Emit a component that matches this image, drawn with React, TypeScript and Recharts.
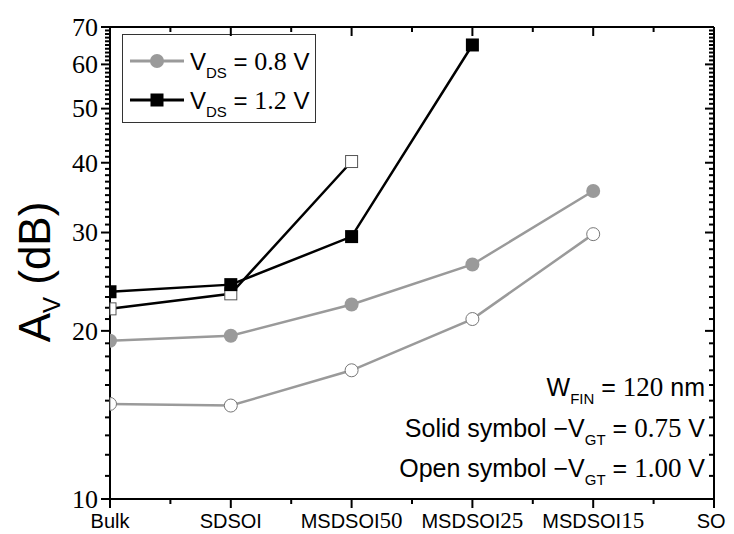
import React from 'react';
import { LineChart, Line, XAxis, YAxis, ReferenceLine } from 'recharts';

const categories = ['Bulk', 'SDSOI', 'MSDSOI50', 'MSDSOI25', 'MSDSOI15', 'SOI'];
const vds08Solid = [19.2, 19.6, 22.3, 26.3, 35.6];
const vds08Open = [14.8, 14.7, 17.0, 21.0, 29.8];
const vds12Solid = [23.5, 24.2, 29.5, 65];
const vds12Open = [21.9, 23.3, 40.2];
const yMajorTicks = [10, 20, 30, 40, 50, 60, 70];
const yAllTicks = Array.from({ length: 61 }, (_, i) => 10 + i);
const xMajorTicks = [0, 1, 2, 3, 4, 5];
const xAllTicks = [0, 0.5, 1, 1.5, 2, 2.5, 3, 3.5, 4, 4.5, 5];

const data = categories.map((c, i) => ({
  x: i,
  s08: vds08Solid[i],
  o08: vds08Open[i],
  s12: vds12Solid[i],
  o12: vds12Open[i],
}));

const GRAY = '#9a9a9a';
const SANS = '"Liberation Sans", Arial, sans-serif';
const SERIF = '"Liberation Serif", "Times New Roman", serif';

const W = 726;
const H = 526;
const PLOT_W = 604;
const PLOT_H = 472;
const MAJOR = 9;
const MINOR = 5;
const X_MIN = 0;
const X_MAX = 5;
const Y_MIN = 10;
const Y_MAX = 70;
const xLen = (px: number) => (px * (X_MAX - X_MIN)) / PLOT_W;
const yFactor = (px: number) => Math.pow(10, (-px * Math.log10(Y_MAX / Y_MIN)) / PLOT_H);

const LeftLabel = (props: any) => {
  const x = Number(props.x);
  const y = Number(props.y);
  const v = props.payload.value;
  return (
    <text x={x - 12} y={y} dy="0.34em" textAnchor="end" fontFamily={SERIF} fontSize={26} fill="#000">
      {v}
    </text>
  );
};

const BottomLabel = (props: any) => {
  const x = Number(props.x);
  const y = Number(props.y);
  const label = categories[props.payload.value] ?? '';
  const m = label.match(/^(\D+)(\d+)$/);
  return (
    <text x={x} y={y + 29} textAnchor="middle" fontFamily={SANS} fontSize={20} fill="#000">
      {m ? (
        <>
          <tspan>{m[1]}</tspan>
          <tspan fontFamily={SERIF} fontSize={23}>{m[2]}</tspan>
        </>
      ) : (
        label
      )}
    </text>
  );
};

const halfCircle = (cx: number, cy: number, r: number) => `M${cx},${cy - r}A${r},${r} 0 0 1 ${cx},${cy + r}Z`;

const dotFilledCircle = (p: any) => {
  if (p.value == null) return <g key={p.index} />;
  if (p.index === 0) return <path key={p.index} d={halfCircle(p.cx, p.cy, 7)} fill={GRAY} />;
  return <circle key={p.index} cx={p.cx} cy={p.cy} r={7} fill={GRAY} stroke="none" />;
};
const dotOpenCircle = (p: any) => {
  if (p.value == null) return <g key={p.index} />;
  if (p.index === 0) return <path key={p.index} d={halfCircle(p.cx, p.cy, 6.5)} fill="#fff" stroke="#777" strokeWidth={1} />;
  return <circle key={p.index} cx={p.cx} cy={p.cy} r={6.5} fill="#fff" stroke="#777" strokeWidth={1} />;
};
const dotFilledSquare = (p: any) => {
  if (p.value == null) return <g key={p.index} />;
  const x0 = p.index === 0 ? p.cx : p.cx - 6.5;
  const w = p.index === 0 ? 6.5 : 13;
  return <rect key={p.index} x={x0} y={p.cy - 6.5} width={w} height={13} fill="#000" />;
};
const dotOpenSquare = (p: any) => {
  if (p.value == null) return <g key={p.index} />;
  const x0 = p.index === 0 ? p.cx : p.cx - 6;
  const w = p.index === 0 ? 6 : 12;
  return <rect key={p.index} x={x0} y={p.cy - 6} width={w} height={12} fill="#fff" stroke="#555" strokeWidth={1} />;
};

// Text and legend layer, painted underneath the chart
const Overlay = () => (
  <svg width={W} height={H} style={{ position: 'absolute', left: 0, top: 0, pointerEvents: 'none' }}>
    <text
      transform="translate(42, 264) rotate(-90)"
      textAnchor="middle"
      fontFamily={SANS}
      fontSize={44}
      fill="#000"
    >
      <tspan>A</tspan>
      <tspan fontSize={24} dy={10}>V</tspan>
      <tspan dy={-10}> (dB)</tspan>
    </text>
    <rect x={114.5} y={26.5} width={193} height={88} fill="#fff" stroke="#333" strokeWidth={1} />
    <line x1={122} x2={176} y1={53} y2={53} stroke={GRAY} strokeWidth={3} />
    <circle cx={149} cy={53} r={7} fill={GRAY} />
    <text x={182} y={62} fontFamily={SANS} fontSize={24} fill="#000">
      <tspan>V</tspan>
      <tspan fontSize={15} dy={8}>DS</tspan>
      <tspan dy={-8}> = </tspan>
      <tspan fontFamily={SERIF} fontSize={26}>0.8</tspan>
      <tspan> V</tspan>
    </text>
    <line x1={122} x2={176} y1={92} y2={92} stroke="#000" strokeWidth={3} />
    <rect x={142.5} y={85.5} width={13} height={13} fill="#000" />
    <text x={182} y={101} fontFamily={SANS} fontSize={24} fill="#000">
      <tspan>V</tspan>
      <tspan fontSize={15} dy={8}>DS</tspan>
      <tspan dy={-8}> = </tspan>
      <tspan fontFamily={SERIF} fontSize={26}>1.2</tspan>
      <tspan> V</tspan>
    </text>
    <text x={697} y={388} textAnchor="end" fontFamily={SANS} fontSize={25} fill="#000">
      <tspan>W</tspan>
      <tspan fontSize={15} dy={8}>FIN</tspan>
      <tspan dy={-8}> = </tspan>
      <tspan fontFamily={SERIF} fontSize={27}>120</tspan>
      <tspan> nm</tspan>
    </text>
    <text x={697} y={429} textAnchor="end" fontFamily={SANS} fontSize={25} fill="#000">
      <tspan>Solid symbol −V</tspan>
      <tspan fontSize={15} dy={8}>GT</tspan>
      <tspan dy={-8}> = </tspan>
      <tspan fontFamily={SERIF} fontSize={27}>0.75</tspan>
      <tspan> V</tspan>
    </text>
    <text x={697} y={469} textAnchor="end" fontFamily={SANS} fontSize={25} fill="#000">
      <tspan>Open symbol −V</tspan>
      <tspan fontSize={15} dy={8}>GT</tspan>
      <tspan dy={-8}> = </tspan>
      <tspan fontFamily={SERIF} fontSize={27}>1.00</tspan>
      <tspan> V</tspan>
    </text>
  </svg>
);

const axisLine = { stroke: '#000', strokeWidth: 2 };

export default function App() {
  return (
    <div style={{ position: 'relative', width: W, height: H, background: '#fff' }}>
      <Overlay />
      <div style={{ position: 'relative', width: W, height: H }}>
        <LineChart width={W} height={H} data={data} margin={{ top: 18, right: 19, bottom: 0, left: 0 }}>
          <XAxis
            xAxisId="b"
            dataKey="x"
            type="number"
            domain={[X_MIN, X_MAX]}
            ticks={xMajorTicks}
            height={35}
            tickSize={0}
            tickMargin={0}
            tick={BottomLabel}
            tickLine={false}
            axisLine={axisLine}
          />
          <XAxis
            xAxisId="t"
            orientation="top"
            dataKey="x"
            type="number"
            domain={[X_MIN, X_MAX]}
            height={1}
            tick={false}
            tickLine={false}
            axisLine={axisLine}
          />
          <YAxis
            yAxisId="l"
            scale="log"
            domain={[Y_MIN, Y_MAX]}
            ticks={yMajorTicks}
            width={102}
            tickSize={0}
            tickMargin={0}
            tick={LeftLabel}
            tickLine={false}
            axisLine={axisLine}
          />
          <YAxis
            yAxisId="r"
            orientation="right"
            scale="log"
            domain={[Y_MIN, Y_MAX]}
            width={1}
            tick={false}
            tickLine={false}
            axisLine={axisLine}
          />
          {yAllTicks.map((v) => {
            const a = xLen(yMajorTicks.includes(v) ? MAJOR : MINOR);
            return (
              <ReferenceLine
                key={`yl${v}`}
                xAxisId="b"
                yAxisId="l"
                ifOverflow="visible"
                segment={[{ x: X_MIN - a, y: v }, { x: X_MIN, y: v }]}
                stroke="#000"
                strokeWidth={2}
              />
            );
          })}
          {yAllTicks.map((v) => {
            const a = xLen(yMajorTicks.includes(v) ? MAJOR : MINOR);
            return (
              <ReferenceLine
                key={`yr${v}`}
                xAxisId="b"
                yAxisId="l"
                ifOverflow="visible"
                segment={[{ x: X_MAX - a, y: v }, { x: X_MAX, y: v }]}
                stroke="#000"
                strokeWidth={2}
              />
            );
          })}
          {xAllTicks.map((t) => {
            const f = yFactor(Number.isInteger(t) ? MAJOR : MINOR);
            return (
              <ReferenceLine
                key={`xb${t}`}
                xAxisId="b"
                yAxisId="l"
                ifOverflow="visible"
                segment={[{ x: t, y: Y_MIN * f }, { x: t, y: Y_MIN }]}
                stroke="#000"
                strokeWidth={2}
              />
            );
          })}
          {xAllTicks.map((t) => {
            const f = yFactor(Number.isInteger(t) ? MAJOR : MINOR);
            return (
              <ReferenceLine
                key={`xt${t}`}
                xAxisId="b"
                yAxisId="l"
                ifOverflow="visible"
                segment={[{ x: t, y: Y_MAX }, { x: t, y: Y_MAX * f }]}
                stroke="#000"
                strokeWidth={2}
              />
            );
          })}
          <Line xAxisId="b" yAxisId="l" dataKey="o08" stroke={GRAY} strokeWidth={2.5} dot={dotOpenCircle} isAnimationActive={false} />
          <Line xAxisId="b" yAxisId="l" dataKey="s08" stroke={GRAY} strokeWidth={2.5} dot={dotFilledCircle} isAnimationActive={false} />
          <Line xAxisId="b" yAxisId="l" dataKey="o12" stroke="#000" strokeWidth={2.5} dot={dotOpenSquare} isAnimationActive={false} />
          <Line xAxisId="b" yAxisId="l" dataKey="s12" stroke="#000" strokeWidth={2.5} dot={dotFilledSquare} isAnimationActive={false} />
        </LineChart>
      </div>
    </div>
  );
}
